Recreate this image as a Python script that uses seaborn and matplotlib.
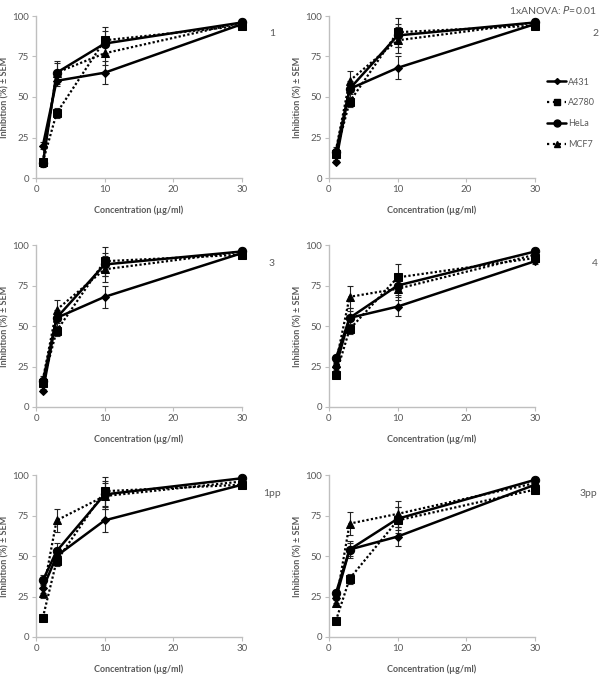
import numpy as np
import pandas as pd
import matplotlib.pyplot as plt
import seaborn as sns
from matplotlib.lines import Line2D

# --- data ---
conc = [1, 3, 10, 30]
cell_lines = ["A431", "A2780", "HeLa", "MCF7"]
panels = ["1", "2", "3", "4", "1pp", "3pp"]

# inhibition (%) per panel, per cell line, at conc 1, 3, 10, 30
a431 = {"1": [20, 60, 65, 95], "2": [10, 55, 68, 95], "3": [10, 55, 68, 95],
        "4": [25, 55, 62, 90], "1pp": [30, 50, 72, 94], "3pp": [24, 54, 62, 94]}
a2780 = {"1": [10, 40, 85, 94], "2": [15, 47, 90, 94], "3": [15, 47, 90, 94],
         "4": [20, 48, 80, 92], "1pp": [12, 47, 90, 94], "3pp": [10, 36, 72, 91]}
hela = {"1": [9, 65, 83, 96], "2": [16, 55, 88, 96], "3": [16, 55, 88, 96],
        "4": [30, 55, 75, 96], "1pp": [35, 53, 88, 98], "3pp": [27, 54, 73, 97]}
mcf7 = {"1": [10, 65, 77, 96], "2": [17, 60, 85, 96], "3": [17, 60, 85, 96],
        "4": [27, 68, 73, 94], "1pp": [27, 72, 87, 96], "3pp": [21, 70, 76, 95]}

# SEM
a431_sem = {"1": [2, 3, 7, 2], "2": [1, 3, 7, 2], "3": [1, 3, 7, 2],
            "4": [2, 4, 6, 2], "1pp": [3, 4, 7, 2], "3pp": [3, 4, 6, 2]}
a2780_sem = {"1": [2, 3, 8, 2], "2": [2, 3, 9, 2], "3": [2, 3, 9, 2],
             "4": [2, 3, 8, 2], "1pp": [2, 3, 9, 2], "3pp": [2, 3, 8, 2]}
hela_sem = {"1": [2, 7, 8, 2], "2": [2, 5, 7, 2], "3": [2, 5, 7, 2],
            "4": [2, 6, 6, 2], "1pp": [3, 5, 8, 2], "3pp": [2, 5, 7, 2]}
mcf7_sem = {"1": [2, 6, 7, 2], "2": [2, 6, 8, 2], "3": [2, 6, 8, 2],
            "4": [2, 7, 7, 2], "1pp": [3, 7, 8, 2], "3pp": [2, 7, 8, 2]}

values = {"A431": a431, "A2780": a2780, "HeLa": hela, "MCF7": mcf7}
sems = {"A431": a431_sem, "A2780": a2780_sem, "HeLa": hela_sem, "MCF7": mcf7_sem}

rows = []
for p in panels:
    for cl in cell_lines:
        for c, v, s in zip(conc, values[cl][p], sems[cl][p]):
            rows.append({"panel": p, "line": cl, "conc": c, "inh": v, "sem": s})
df = pd.DataFrame(rows)

sns.set_theme(style="white")
plt.rcParams["font.family"] = ["Lato", "DejaVu Sans"]

markers = {"A431": "D", "A2780": "s", "HeLa": "o", "MCF7": "^"}
msizes = {"A431": 4, "A2780": 6, "HeLa": 6, "MCF7": 6}
dashes = {"A431": "", "A2780": (1, 1), "HeLa": "", "MCF7": (1, 1)}
lws = {"A431": 1.8, "A2780": 1.6, "HeLa": 1.8, "MCF7": 1.6}

fig = plt.figure(figsize=(6.0, 6.74), dpi=100)
W, H = 600, 674
lefts = [36, 329]
y0s = [178, 407, 637]
label_pos = {"1": (272, 33), "2": (595, 33), "3": (272, 263), "4": (595, 263),
             "1pp": (272, 493), "3pp": (588, 493)}
grey = "#595959"
spine_c = "#bfbfbf"

for i, p in enumerate(panels):
    r, c = divmod(i, 2)
    left = lefts[c]
    ax = fig.add_axes([left / W, 1 - y0s[r] / H, 206 / W, 162 / H])
    sub = df[df["panel"] == p]
    for cl in cell_lines:
        d = sub[sub["line"] == cl]
        ax.errorbar(d["conc"], d["inh"], yerr=d["sem"], fmt="none", ecolor="#222222",
                    elinewidth=0.8, capsize=2, capthick=0.8, clip_on=False, zorder=2)
        sns.lineplot(data=d, x="conc", y="inh", ax=ax, color="black",
                     marker=markers[cl], markersize=msizes[cl], markeredgecolor="black",
                     linewidth=lws[cl], dashes=dashes[cl], clip_on=False, zorder=3,
                     errorbar=None)
    ax.set_xlim(0, 30)
    ax.set_ylim(0, 100)
    ax.set_xticks([0, 10, 20, 30])
    ax.set_yticks([0, 25, 50, 75, 100])
    for s in ["top", "right"]:
        ax.spines[s].set_visible(False)
    for s in ["left", "bottom"]:
        ax.spines[s].set_color(spine_c)
        ax.spines[s].set_linewidth(1.0)
    ax.tick_params(axis="both", length=3, width=0.8, color=spine_c, labelsize=7,
                   labelcolor=grey, direction="out", pad=2, bottom=True, left=True)
    ax.set_xlabel("Concentration (µg/ml)", fontsize=6.5, fontweight="bold", color=grey,
                  labelpad=8)
    ax.set_ylabel("Inhibition (%) ± SEM", fontsize=6.5, fontweight="bold", color=grey,
                  labelpad=2)
    lx, ly = label_pos[p]
    fig.text(lx / W, 1 - ly / H, p, ha="center", va="center", fontsize=7.5, color=grey)

fig.text(597 / W, 1 - 10 / H, r"1xANOVA: $\it{P}$=0.01", ha="right", va="center",
         fontsize=7.5, color=grey)

handles = [Line2D([0], [0], color="black", marker=markers[cl], markersize=msizes[cl] - 1,
                  linewidth=lws[cl], linestyle="-" if dashes[cl] == "" else ":")
           for cl in cell_lines]
leg = fig.legend(handles, cell_lines, loc="upper left", bbox_to_anchor=(543 / W, 1 - 74 / H),
                 frameon=False, fontsize=6.5, handlelength=2.2, handletextpad=0.2,
                 labelspacing=1.3, borderaxespad=0)
for t in leg.get_texts():
    t.set_color(grey)

fig.savefig("out.png", dpi=100)
